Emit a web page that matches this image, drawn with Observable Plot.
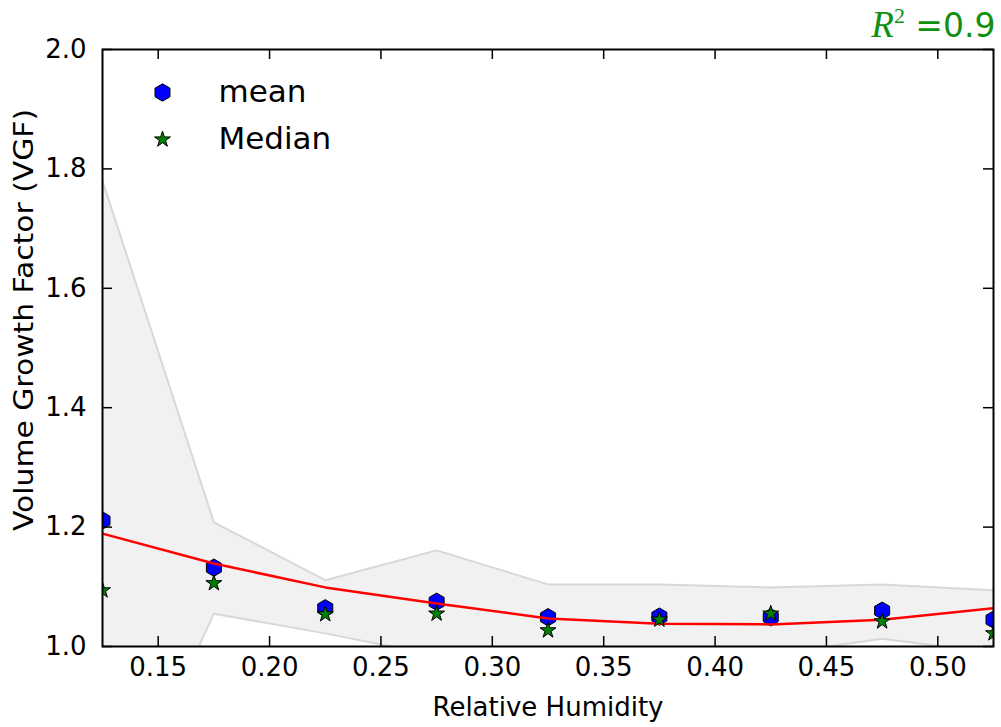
<!DOCTYPE html>
<html>
<head>
<meta charset="utf-8">
<script src="https://cdn.jsdelivr.net/npm/d3@7"></script>
<script src="https://cdn.jsdelivr.net/npm/@observablehq/plot@0.6"></script>
<style>
  html, body { margin: 0; padding: 0; background: white; }
</style>
</head>
<body>
<div id="chart"></div>
<script>
// Relative humidity bins (x)
const rh = [0.125, 0.175, 0.225, 0.275, 0.325, 0.375, 0.425, 0.475, 0.525];
// Mean VGF per bin
const meanVGF = [1.211, 1.132, 1.064, 1.075, 1.049, 1.050, 1.049, 1.060, 1.045];
// Median VGF per bin
const medianVGF = [1.094, 1.106, 1.054, 1.055, 1.027, 1.045, 1.055, 1.042, 1.022];
// Spread band (upper / lower)
const upperVGF = [1.780, 1.208, 1.111, 1.161, 1.104, 1.104, 1.099, 1.104, 1.094];
const lowerVGF = [0.650, 1.055, 1.022, 0.985, 0.985, 0.988, 0.986, 1.013, 0.989];
// Quadratic fit values at each bin
const fitVGF = [1.189, 1.139, 1.099, 1.072, 1.047, 1.038, 1.037, 1.045, 1.064];
// Tick labels
const xTicks = [0.15, 0.20, 0.25, 0.30, 0.35, 0.40, 0.45, 0.50];
const yTicks = [1.0, 1.2, 1.4, 1.6, 1.8, 2.0];
const legendLabels = ["mean", "Median"];
const r2Label = "R² =0.9";
const xLabel = "Relative Humidity";
const yLabel = "Volume Growth Factor (VGF)";

const data = rh.map((x, i) => ({
  rh: x, mean: meanVGF[i], median: medianVGF[i],
  hi: upperVGF[i], lo: lowerVGF[i], fit: fitVGF[i]
}));

const W = 1001, H = 727;
const mL = 102, mR = 8, mT = 49, mB = 81;
const innerW = W - mL - mR, innerH = H - mT - mB;
const tickLen = 10;

const chart = Plot.plot({
  width: W, height: H,
  marginLeft: mL, marginRight: mR, marginTop: mT, marginBottom: mB,
  style: { fontFamily: "DejaVu Sans", fontSize: "26px", background: "white", color: "black", overflow: "visible" },
  x: { domain: [0.125, 0.525] },
  y: { domain: [1.0, 2.0] },
  marks: [
    // band
    Plot.areaY(data, { x: "rh", y1: "lo", y2: "hi", fill: "#f1f1f1", clip: true }),
    Plot.lineY(data, { x: "rh", y: "hi", stroke: "#d8d8d8", strokeWidth: 2, clip: true }),
    Plot.lineY(data, { x: "rh", y: "lo", stroke: "#d8d8d8", strokeWidth: 2, clip: true }),
    // mean markers
    Plot.dot(data, { x: "rh", y: "mean", symbol: "hexagon", r: 7.5, fill: "#0000ff", stroke: "black", strokeWidth: 1, clip: true }),
    // fit line
    Plot.lineY(data, { x: "rh", y: "fit", stroke: "#ff0000", strokeWidth: 2.5, clip: true }),
    // median markers
    Plot.dot(data, { x: "rh", y: "median", symbol: "star", r: 5, fill: "#008000", stroke: "black", strokeWidth: 1, clip: true }),
    // inward ticks
    Plot.tickX(xTicks, { x: d => d, stroke: "black", strokeWidth: 1.5, insetTop: innerH - tickLen }),
    Plot.tickX(xTicks, { x: d => d, stroke: "black", strokeWidth: 1.5, insetBottom: innerH - tickLen }),
    Plot.tickY(yTicks, { y: d => d, stroke: "black", strokeWidth: 1.5, insetRight: innerW - tickLen }),
    Plot.tickY(yTicks, { y: d => d, stroke: "black", strokeWidth: 1.5, insetLeft: innerW - tickLen }),
    // axes labels
    Plot.axisX(xTicks, { anchor: "bottom", tickSize: 0, tickPadding: 11, tickFormat: d3.format(".2f"),
      label: xLabel, labelAnchor: "center", labelArrow: "none", labelOffset: 69, fontSize: 26 }),
    Plot.axisY(yTicks, { anchor: "left", tickSize: 0, tickPadding: 16, tickFormat: d3.format(".1f"),
      label: yLabel, labelAnchor: "center", labelArrow: "none", labelOffset: 88, fontSize: 26 }),
    Plot.frame({ stroke: "black", strokeWidth: 2 }),
    // legend
    Plot.dot([legendLabels[0]], { x: null, y: null, frameAnchor: "top-left", dx: 60, dy: 43, symbol: "hexagon", r: 7.5, fill: "#0000ff", stroke: "black", strokeWidth: 1 }),
    Plot.dot([legendLabels[1]], { x: null, y: null, frameAnchor: "top-left", dx: 60, dy: 90, symbol: "star", r: 5, fill: "#008000", stroke: "black", strokeWidth: 1 }),
    Plot.text([legendLabels[0]], { text: d => d, x: null, y: null, frameAnchor: "top-left", dx: 116, dy: 43, lineAnchor: "middle", textAnchor: "start", fontSize: 31, fill: "black" }),
    Plot.text([legendLabels[1]], { text: d => d, x: null, y: null, frameAnchor: "top-left", dx: 116, dy: 90, lineAnchor: "middle", textAnchor: "start", fontSize: 31, fill: "black" }),
    // R^2 annotation
    Plot.text([r2Label], { text: d => d, x: null, y: null, frameAnchor: "top-right", dx: 2, dy: -13, lineAnchor: "bottom", textAnchor: "end", fontSize: 33, fill: "#109010" })
  ]
});

document.getElementById("chart").appendChild(chart);

// Render R^2 with italic serif R and superscript 2
d3.select(chart).selectAll("text").filter(function () { return this.textContent === r2Label; })
  .each(function () {
    const t = d3.select(this);
    t.text(null);
    t.append("tspan").attr("font-family", "Liberation Serif").attr("font-style", "italic").attr("font-size", 37).text("R");
    t.append("tspan").attr("font-family", "Liberation Serif").attr("font-size", 22).attr("dy", -14).text("2");
    t.append("tspan").attr("dy", 14).text(" =0.9");
  });

// Stretch the y-axis label along its length as in the reference
d3.select(chart).selectAll("text").filter(function () { return this.textContent === yLabel; })
  .attr("textLength", 422).attr("lengthAdjust", "spacingAndGlyphs").attr("dx", 28);
</script>
</body>
</html>
